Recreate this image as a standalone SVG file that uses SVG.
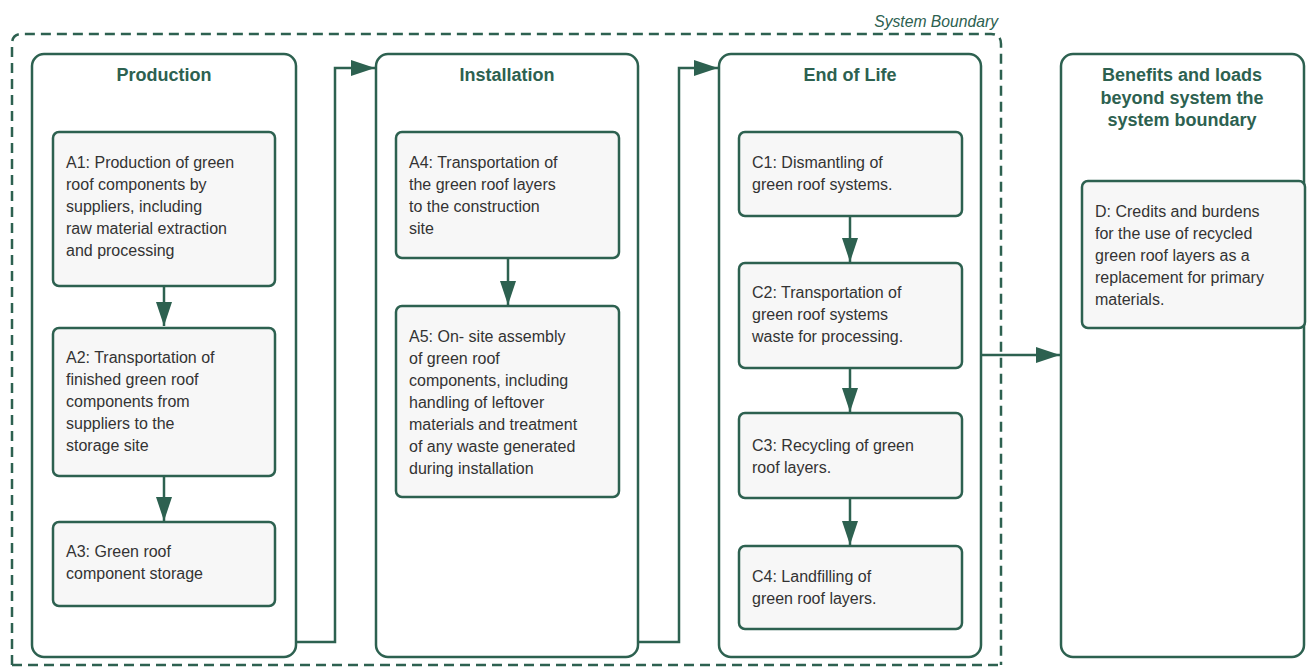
<svg xmlns="http://www.w3.org/2000/svg" width="1313" height="671" viewBox="0 0 1313 671">
<defs>
<style>
.stage{fill:#ffffff;stroke:#2d6150;stroke-width:2.5}
.box{fill:#f7f7f7;stroke:#2d6150;stroke-width:2.5}
.title{font-family:"Liberation Sans",Arial,sans-serif;font-size:18px;font-weight:bold;fill:#2d6150;text-anchor:middle}
.txt{font-family:"Liberation Sans",Arial,sans-serif;font-size:16px;fill:#333333}
.conn{fill:none;stroke:#2d6150;stroke-width:2.5}
.bound{fill:none;stroke:#2d6150;stroke-width:2.5;stroke-dasharray:10 6}
.blabel{font-family:"Liberation Sans",Arial,sans-serif;font-size:15.7px;font-style:italic;fill:#2d6150;text-anchor:end}
</style>
<marker id="arr" markerUnits="userSpaceOnUse" markerWidth="24" markerHeight="16" refX="24" refY="8" orient="auto">
<path d="M0,0 L24,8 L0,16 z" fill="#2d6150"/>
</marker>
</defs>
<rect width="1313" height="671" fill="#ffffff"/>

<g id="boundary">
<path class="bound" d="M12,665 L12,44 Q12,34 22,34 L991,34 Q1001,34 1001,44 L1001,665"/>
<path class="bound" d="M12,665 L1001,665"/>
<text class="blabel" x="998" y="27">System Boundary</text>
</g>

<g id="production">
<rect class="stage" x="32" y="54" width="264" height="603" rx="12"/>
<text class="title" x="164" y="81">Production</text>
</g>
<g id="installation">
<rect class="stage" x="376" y="54" width="262" height="603" rx="12"/>
<text class="title" x="507" y="81">Installation</text>
</g>
<g id="endoflife">
<rect class="stage" x="719" y="54" width="262" height="603" rx="12"/>
<text class="title" x="850" y="81">End of Life</text>
</g>
<g id="benefits">
<rect class="stage" x="1061" y="54" width="243" height="603" rx="12"/>
<text class="title" x="1182" y="81">Benefits and loads</text>
<text class="title" x="1182" y="103.5">beyond system the</text>
<text class="title" x="1182" y="126">system boundary</text>
</g>

<g id="A1">
<rect class="box" x="53" y="132" width="222" height="154" rx="6"/>
<text class="txt" x="66" y="168">A1: Production of green</text>
<text class="txt" x="66" y="190">roof components by</text>
<text class="txt" x="66" y="212">suppliers, including</text>
<text class="txt" x="66" y="234">raw material extraction</text>
<text class="txt" x="66" y="256">and processing</text>
</g>
<g id="A2">
<rect class="box" x="53" y="328" width="222" height="148" rx="6"/>
<text class="txt" x="66" y="363">A2: Transportation of</text>
<text class="txt" x="66" y="385">finished green roof</text>
<text class="txt" x="66" y="407">components from</text>
<text class="txt" x="66" y="429">suppliers to the</text>
<text class="txt" x="66" y="451">storage site</text>
</g>
<g id="A3">
<rect class="box" x="53" y="522" width="222" height="84" rx="6"/>
<text class="txt" x="66" y="557">A3: Green roof</text>
<text class="txt" x="66" y="579">component storage</text>
</g>

<g id="A4">
<rect class="box" x="396" y="132" width="223" height="126" rx="6"/>
<text class="txt" x="409" y="168">A4: Transportation of</text>
<text class="txt" x="409" y="190">the green roof layers</text>
<text class="txt" x="409" y="212">to the construction</text>
<text class="txt" x="409" y="234">site</text>
</g>
<g id="A5">
<rect class="box" x="396" y="306" width="223" height="191" rx="6"/>
<text class="txt" x="409" y="342">A5: On- site assembly</text>
<text class="txt" x="409" y="364">of green roof</text>
<text class="txt" x="409" y="386">components, including</text>
<text class="txt" x="409" y="408">handling of leftover</text>
<text class="txt" x="409" y="430">materials and treatment</text>
<text class="txt" x="409" y="452">of any waste generated</text>
<text class="txt" x="409" y="474">during installation</text>
</g>

<g id="C1">
<rect class="box" x="739" y="132" width="223" height="84" rx="6"/>
<text class="txt" x="752" y="168">C1: Dismantling of</text>
<text class="txt" x="752" y="190">green roof systems.</text>
</g>
<g id="C2">
<rect class="box" x="739" y="263" width="223" height="105" rx="6"/>
<text class="txt" x="752" y="298">C2: Transportation of</text>
<text class="txt" x="752" y="320">green roof systems</text>
<text class="txt" x="752" y="342">waste for processing.</text>
</g>
<g id="C3">
<rect class="box" x="739" y="413" width="223" height="85" rx="6"/>
<text class="txt" x="752" y="451">C3: Recycling of green</text>
<text class="txt" x="752" y="473">roof layers.</text>
</g>
<g id="C4">
<rect class="box" x="739" y="546" width="223" height="83" rx="6"/>
<text class="txt" x="752" y="582">C4: Landfilling of</text>
<text class="txt" x="752" y="604">green roof layers.</text>
</g>

<g id="D">
<rect class="box" x="1082" y="181" width="223" height="147" rx="6"/>
<text class="txt" x="1095" y="217">D: Credits and burdens</text>
<text class="txt" x="1095" y="239">for the use of recycled</text>
<text class="txt" x="1095" y="261">green roof layers as a</text>
<text class="txt" x="1095" y="283">replacement for primary</text>
<text class="txt" x="1095" y="305">materials.</text>
</g>

<g id="connectors">
<path class="conn" marker-end="url(#arr)" d="M164,287 L164,326"/>
<path class="conn" marker-end="url(#arr)" d="M164,477 L164,521"/>
<path class="conn" marker-end="url(#arr)" d="M508,259 L508,305"/>
<path class="conn" marker-end="url(#arr)" d="M850,217 L850,262"/>
<path class="conn" marker-end="url(#arr)" d="M850,369 L850,412"/>
<path class="conn" marker-end="url(#arr)" d="M850,499 L850,545"/>
<path class="conn" marker-end="url(#arr)" d="M296,642 L335,642 L335,68 L375,68"/>
<path class="conn" marker-end="url(#arr)" d="M638,642 L679,642 L679,68 L718,68"/>
<path class="conn" marker-end="url(#arr)" d="M981,355 L1060,355"/>
</g>
</svg>
